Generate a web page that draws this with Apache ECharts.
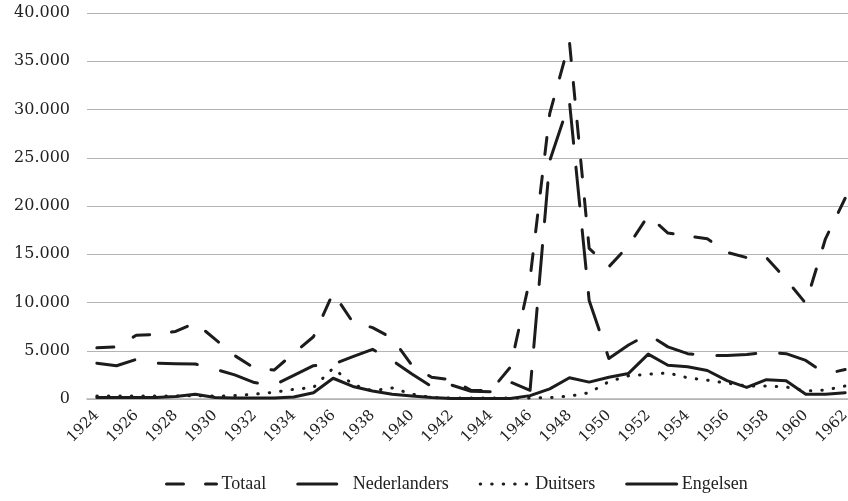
<!DOCTYPE html>
<html>
<head>
<meta charset="utf-8">
<script src="https://cdn.jsdelivr.net/npm/echarts/dist/echarts.min.js"></script>
<style>
  html, body { margin: 0; padding: 0; background: #fff; }
  #chart { width: 848px; height: 501px; }
</style>
</head>
<body>
<div id="chart"></div>
<script>
// jaren 1924 - 1962
var years = [];
for (var y = 1924; y <= 1962; y++) years.push(String(y));

var totaal = [5300, 5400, 6600, 6700, 7000, 7900, 6200, 4500, 3200, 3000,
  4750, 6450, 11000, 7950, 7400, 6300, 3500, 2250, 2000, 900,
  850, 3300, 12500, 29600, 37000, 15600, 13700, 15900, 19000, 17200,
  16900, 16600, 15200, 14650, 14650, 12400, 9900, 16600, 20800];

var nederlanders = [3700, 3450, 4100, 3700, 3650, 3620, 3100, 2500, 1700, 1450,
  2450, 3450, 3600, 4400, 5150, 4000, 2600, 1300, 1450, 800,
  750, 1750, 900, 24700, 30800, 10200, 4200, 5600, 6700, 5400,
  4700, 4500, 4500, 4600, 4850, 4700, 4000, 2600, 3050];

var duitsers = [300, 300, 300, 300, 300, 350, 300, 350, 500, 700,
  1000, 1200, 3200, 1500, 850, 1150, 500, 150, 100, 100,
  100, 100, 100, 150, 300, 650, 1800, 2400, 2570, 2700,
  2200, 1950, 1650, 1350, 1350, 1250, 830, 930, 1350];

var engelsen = [150, 150, 150, 150, 250, 500, 150, 100, 100, 100,
  200, 650, 2150, 1300, 830, 500, 300, 150, 50, 50,
  50, 50, 350, 1050, 2200, 1750, 2250, 2650, 4650, 3500,
  3350, 2950, 1900, 1200, 2000, 1900, 500, 500, 650];

var ink = '#1c1c1c';
var font = 'Liberation Serif';
var numFont = 'DejaVu Serif';

function mkLine(name, data, type, width) {
  return {
    name: name,
    type: 'line',
    data: data,
    showSymbol: false,
    symbol: 'none',
    smooth: false,
    lineStyle: { color: ink, width: width, type: type, cap: 'round', join: 'round' },
    itemStyle: { color: ink }
  };
}

var chart = echarts.init(document.getElementById('chart'), null, { renderer: 'canvas' });
chart.setOption({
  animation: false,
  backgroundColor: '#fff',
  grid: { left: 87, top: 13, width: 768, height: 386, containLabel: false, outerBoundsMode: 'none' },
  legend: {
    left: 160,
    top: 470,
    itemWidth: 50,
    itemHeight: 14,
    itemGap: 30,
    itemStyle: { opacity: 0 },
    lineStyle: { width: 3 },
    textStyle: { fontFamily: font, fontSize: 18, color: '#222' },
    data: ['Totaal', 'Nederlanders', 'Duitsers', 'Engelsen']
  },
  xAxis: {
    type: 'category',
    data: years,
    boundaryGap: true,
    axisLine: { show: true, lineStyle: { color: '#b4b4b4', width: 1.5 } },
    axisTick: { show: false },
    axisLabel: {
      interval: 1,
      rotate: 45,
      margin: 14,
      fontFamily: numFont,
      fontSize: 15,
      color: '#222'
    }
  },
  yAxis: {
    type: 'value',
    min: 0,
    max: 40000,
    interval: 5000,
    axisLine: { show: false },
    axisTick: { show: false },
    splitLine: { lineStyle: { color: '#b4b4b4', width: 1 } },
    axisLabel: {
      margin: 17,
      fontFamily: numFont,
      fontSize: 16,
      color: '#222',
      formatter: function (v) {
        return v === 0 ? '0' : String(v).replace(/\B(?=(\d{3})+(?!\d))/g, '.');
      }
    }
  },
  series: [
    mkLine('Totaal', totaal, [17, 22], 3),
    mkLine('Nederlanders', nederlanders, [39, 24], 3),
    mkLine('Duitsers', duitsers, [0.5, 11], 3),
    mkLine('Engelsen', engelsen, 'solid', 3)
  ]
});
</script>
</body>
</html>
